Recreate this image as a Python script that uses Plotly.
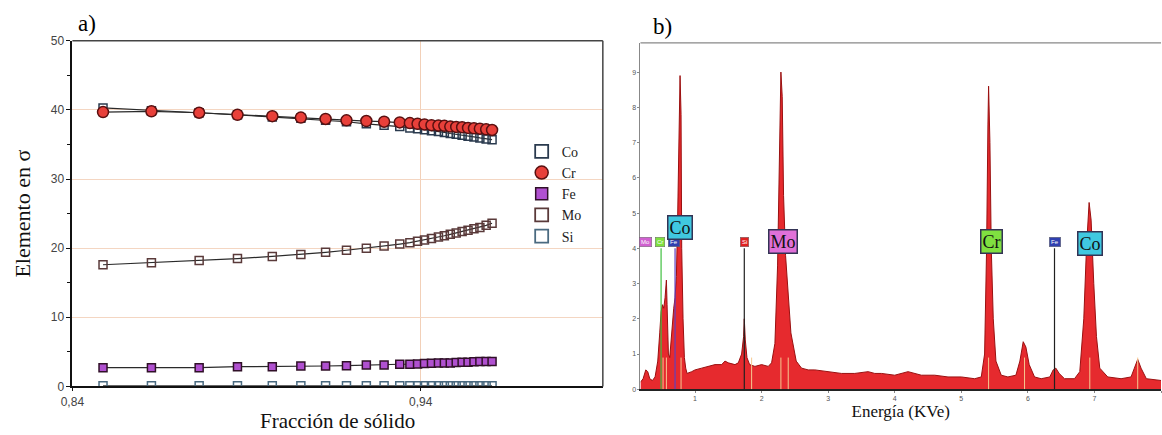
import plotly.graph_objects as go

# ---------------- Panel a data ----------------
fraccion = [0.8488, 0.8627, 0.8764, 0.8874, 0.8974, 0.9056, 0.9127, 0.9187, 0.9244,
            0.9295, 0.9340, 0.9369, 0.9391, 0.9411, 0.9431, 0.9451, 0.9468, 0.9485,
            0.9502, 0.9519, 0.9536, 0.9553, 0.9570, 0.9588, 0.9605]
co_vals = [40.3, 39.9, 39.6, 39.3, 39.0, 38.8, 38.5, 38.3, 38.0, 37.8, 37.6, 37.4, 37.3,
           37.15, 37.0, 36.9, 36.75, 36.6, 36.5, 36.35, 36.2, 36.1, 35.95, 35.8, 35.7]
cr_vals = [39.7, 39.8, 39.6, 39.3, 39.1, 38.9, 38.7, 38.5, 38.4, 38.3, 38.2, 38.1, 38.0,
           37.9, 37.8, 37.75, 37.7, 37.6, 37.55, 37.5, 37.4, 37.35, 37.3, 37.2, 37.1]
fe_vals = [2.7, 2.7, 2.7, 2.85, 2.85, 2.95, 2.95, 3.0, 3.1, 3.1, 3.2, 3.2, 3.25, 3.3,
           3.35, 3.4, 3.4, 3.4, 3.45, 3.5, 3.5, 3.55, 3.6, 3.6, 3.6]
mo_vals = [17.6, 17.9, 18.2, 18.5, 18.8, 19.1, 19.4, 19.7, 20.0, 20.3, 20.6, 20.8, 21.0,
           21.2, 21.4, 21.6, 21.8, 22.0, 22.2, 22.4, 22.6, 22.8, 23.0, 23.3, 23.6]
si_vals = [0.1] * 25
x_ticks_a = [0.84, 0.94]
x_ticklabels_a = ["0,84", "0,94"]
y_ticks_a = [0, 10, 20, 30, 40, 50]

# ---------------- Panel b data ----------------
energia = [0.18, 0.22, 0.26, 0.29, 0.32, 0.36, 0.40, 0.44, 0.47, 0.49, 0.51, 0.53, 0.55,
           0.57, 0.58, 0.60, 0.62, 0.64, 0.66, 0.68, 0.70, 0.72, 0.74, 0.76, 0.775, 0.79,
           0.80, 0.82, 0.84, 0.86, 0.88, 0.95, 1.0, 1.1, 1.2, 1.3, 1.4, 1.45, 1.5, 1.55,
           1.6, 1.65, 1.70, 1.73, 1.74, 1.755, 1.78, 1.82, 1.9, 2.0, 2.1, 2.15, 2.2, 2.24,
           2.27, 2.29, 2.31, 2.33, 2.36, 2.40, 2.44, 2.48, 2.52, 2.6, 2.7, 2.8, 3.0, 3.2,
           3.4, 3.6, 3.7, 3.8, 4.0, 4.2, 4.4, 4.6, 4.8, 5.0, 5.2, 5.3, 5.35, 5.38, 5.40,
           5.41, 5.43, 5.45, 5.48, 5.52, 5.6, 5.7, 5.82, 5.88, 5.93, 5.97, 6.02, 6.1, 6.2,
           6.33, 6.38, 6.42, 6.47, 6.55, 6.7, 6.78, 6.84, 6.88, 6.92, 6.95, 6.99, 7.03,
           7.08, 7.2, 7.4, 7.55, 7.60, 7.65, 7.70, 7.78, 8.0]
cuentas = [0.2, 0.3, 0.55, 0.5, 0.3, 0.25, 0.35, 0.8, 1.6, 2.2, 2.4, 2.3, 2.6,
           3.1, 2.4, 1.0, 0.9, 1.4, 2.0, 2.3, 2.6, 3.2, 5.0, 7.8, 8.9, 7.8,
           4.0, 2.0, 0.9, 0.6, 0.45, 0.5, 0.55, 0.6, 0.65, 0.7, 0.7, 0.8, 0.75, 0.72,
           0.7, 0.75, 1.0, 1.5, 2.0, 1.4, 0.9, 0.7, 0.65, 0.7, 0.65, 0.75, 1.3, 3.5,
           7.0, 9.0, 8.3, 5.5, 3.8, 2.6, 1.6, 1.2, 0.8, 0.6, 0.55, 0.55, 0.5, 0.45,
           0.45, 0.5, 0.45, 0.45, 0.4, 0.5, 0.4, 0.4, 0.35, 0.35, 0.3, 0.35, 1.0, 4.0, 7.5,
           8.6, 7.0, 4.0, 2.0, 0.8, 0.4, 0.35, 0.4, 0.8, 1.35, 1.2, 0.7, 0.35, 0.3,
           0.35, 0.55, 0.6, 0.45, 0.3, 0.3, 0.5, 2.0, 4.0, 5.3, 4.8, 3.0, 1.5,
           0.6, 0.35, 0.3, 0.35, 0.6, 0.85, 0.6, 0.3, 0.25]
x_ticks_b = [1, 2, 3, 4, 5, 6, 7, 8]
y_ticks_b = [0, 1, 2, 3, 4, 5, 6, 7, 8, 9]

# element labels on spectrum
label_text = ["Mo", "Cr", "Fe", "Co", "Si", "Mo", "Cr", "Fe", "Co"]
label_x = [0.25, 0.48, 0.69, 0.77, 1.74, 2.32, 5.45, 6.40, 6.93]
label_y = [4.18, 4.18, 4.18, 4.59, 4.18, 4.18, 4.18, 4.18, 4.15]
label_fill = ["#d060d0", "#80e040", "#3040b0", "#40c8e0", "#e02020",
              "#e070d8", "#80e040", "#3040b0", "#40c8e0"]
label_big = [False, False, False, True, False, True, True, False, True]
# element marker lines
mline_x = [0.49, 0.70, 1.74, 6.40]
mline_top = [4.0, 4.0, 4.0, 4.0]
mline_col = ["#40c040", "#6040c0", "#202020", "#202020"]
thin_x = [0.52, 0.57, 0.79, 1.85, 2.29, 2.40, 5.41, 5.95, 6.93, 7.65]

SERIF = "Liberation Serif, Times New Roman, serif"
SANS = "Liberation Sans, Arial, sans-serif"

fig = go.Figure()

series = [
    ("Co", co_vals, "square-open", 8, "#2a3a4e", "#2a2a2a", 1.2),
    ("Cr", cr_vals, "circle", 11, "#e8403a", "#2a2a2a", 1.2),
    ("Fe", fe_vals, "square", 8, "#b050d0", "#2a2a2a", 1.2),
    ("Mo", mo_vals, "square-open", 8, "#5a3a3a", "#2a2a2a", 1.2),
    ("Si", si_vals, "square-open", 8, "#4a6a80", "#666666", 1.2),
]
edges = {"Cr": "#5a1010", "Fe": "#301028"}
for name, vals, sym, size, col, lcol, lw in series:
    if sym.endswith("open"):
        mk = dict(symbol=sym, size=size, color=col, line=dict(color=col, width=1.5))
    else:
        mk = dict(symbol=sym, size=size, color=col, line=dict(color=edges[name], width=1.5))
    fig.add_trace(go.Scatter(
        x=fraccion, y=vals, name=name, mode="lines+markers",
        line=dict(color=lcol, width=lw), marker=mk, showlegend=False,
        xaxis="x", yaxis="y"))
# legend entries (marker only)
for name, vals, sym, size, col, lcol, lw in series:
    if sym.endswith("open"):
        mk = dict(symbol="square-open", size=13, color=col, line=dict(color=col, width=1.8))
    elif sym == "circle":
        mk = dict(symbol="circle", size=13, color=col, line=dict(color=edges[name], width=1.5))
    else:
        mk = dict(symbol="square", size=12, color=col, line=dict(color=edges[name], width=1.5))
    fig.add_trace(go.Scatter(
        x=[None], y=[None], name=name, mode="markers", marker=mk,
        xaxis="x", yaxis="y"))

# panel b spectrum
fig.add_trace(go.Scatter(
    x=energia, y=cuentas, mode="lines", fill="tozeroy",
    fillcolor="#e62a2e", line=dict(color="#9a1010", width=1),
    showlegend=False, xaxis="x2", yaxis="y2"))

shapes = []
for xv in thin_x:
    shapes.append(dict(type="line", xref="x2", yref="y2", x0=xv, x1=xv, y0=0, y1=0.9,
                       line=dict(color="#f6c890", width=1)))
for xv, top, col in zip(mline_x, mline_top, mline_col):
    shapes.append(dict(type="line", xref="x2", yref="y2", x0=xv, x1=xv, y0=0, y1=top,
                       line=dict(color=col, width=1.2)))

annotations = []
for t, xv, yv, col, big in zip(label_text, label_x, label_y, label_fill, label_big):
    if big:
        annotations.append(dict(xref="x2", yref="y2", x=xv, y=yv, text=t, showarrow=False,
                                font=dict(family=SERIF, size=18, color="#111"),
                                bgcolor=col, bordercolor="#333355", borderwidth=1.5,
                                borderpad=1))
    else:
        annotations.append(dict(xref="x2", yref="y2", x=xv, y=yv, text=t, showarrow=False,
                                font=dict(family=SANS, size=6, color="#ffffff"),
                                bgcolor=col, bordercolor="#666666", borderwidth=0.5,
                                borderpad=1.5))

annotations += [
    dict(xref="paper", yref="paper", x=65 / 1162, y=1 - 2 / 435, xanchor="left", yanchor="top",
         text="a)", showarrow=False, font=dict(family=SERIF, size=23, color="#000")),
    dict(xref="paper", yref="paper", x=646 / 1162, y=1 - 5 / 435, xanchor="left", yanchor="top",
         text="b)", showarrow=False, font=dict(family=SERIF, size=23, color="#000")),
]

fig.update_layout(
    width=1162, height=435, margin=dict(l=0, r=0, t=0, b=0),
    paper_bgcolor="white", plot_bgcolor="white",
    shapes=shapes, annotations=annotations,
    legend=dict(x=515 / 1162, y=1 - 133 / 435, xanchor="left", yanchor="top",
                font=dict(family=SERIF, size=14, color="#222"), bgcolor="rgba(0,0,0,0)",
                tracegroupgap=0, itemwidth=30),
    xaxis=dict(domain=[61 / 1162, 597 / 1162], range=[0.84, 0.9923],
               tickvals=x_ticks_a, ticktext=x_ticklabels_a,
               showgrid=True, gridcolor="#f2d0b8", gridwidth=1,
               showline=True, linecolor="#111", linewidth=1.5, mirror=False,
               ticks="outside", ticklen=3, tickcolor="#111",
               tickfont=dict(family=SANS, size=12, color="#444"),
               title=dict(text="Fracción de sólido", font=dict(family=SERIF, size=21, color="#111"),
                          standoff=4),
               zeroline=False, anchor="y"),
    yaxis=dict(domain=[1 - 392 / 435, 1 - 35 / 435], range=[0, 50],
               tickvals=y_ticks_a, showgrid=True, gridcolor="#f4d6c2", gridwidth=1,
               showline=True, linecolor="#111", linewidth=1.8,
               ticks="outside", ticklen=4, tickcolor="#111",
               minor=dict(dtick=5, ticks="outside", ticklen=3, tickcolor="#111", showgrid=False),
               tickfont=dict(family=SANS, size=12, color="#444"),
               title=dict(text="Elemento en σ", font=dict(family=SERIF, size=22, color="#111"),
                          standoff=14),
               zeroline=False, anchor="x"),
    xaxis2=dict(domain=[635 / 1162, 1161 / 1162], range=[0.18, 8.0],
                tickvals=x_ticks_b, showgrid=False,
                showline=True, linecolor="#222", linewidth=1.5,
                ticks="outside", ticklen=2, tickcolor="#888",
                tickfont=dict(family=SANS, size=7, color="#555"),
                title=dict(text="Energía (KVe)", font=dict(family=SERIF, size=17, color="#111"),
                           standoff=2),
                zeroline=False, anchor="y2"),
    yaxis2=dict(domain=[1 - 395 / 435, 1 - 37 / 435], range=[0, 9.83],
                tickvals=y_ticks_b, showgrid=False,
                showline=True, linecolor="#888", linewidth=1,
                ticks="outside", ticklen=2, tickcolor="#888",
                tickfont=dict(family=SANS, size=7, color="#555"),
                zeroline=False, anchor="x2"),
)

fig.add_shape(type="line", xref="paper", yref="paper", x0=61 / 1162, x1=597 / 1162,
              y0=1 - 35 / 435, y1=1 - 35 / 435, line=dict(color="#444", width=1.5))
fig.add_shape(type="line", xref="paper", yref="paper", x0=597 / 1162, x1=597 / 1162,
              y0=1 - 392 / 435, y1=1 - 35 / 435, line=dict(color="#444", width=1.5))
fig.add_shape(type="line", xref="paper", yref="paper", x0=635 / 1162, x1=1161 / 1162,
              y0=1 - 37 / 435, y1=1 - 37 / 435, line=dict(color="#888", width=1.2))

fig.write_html("out.html", config={"displayModeBar": False},
               post_script="document.body.style.margin='0';")
